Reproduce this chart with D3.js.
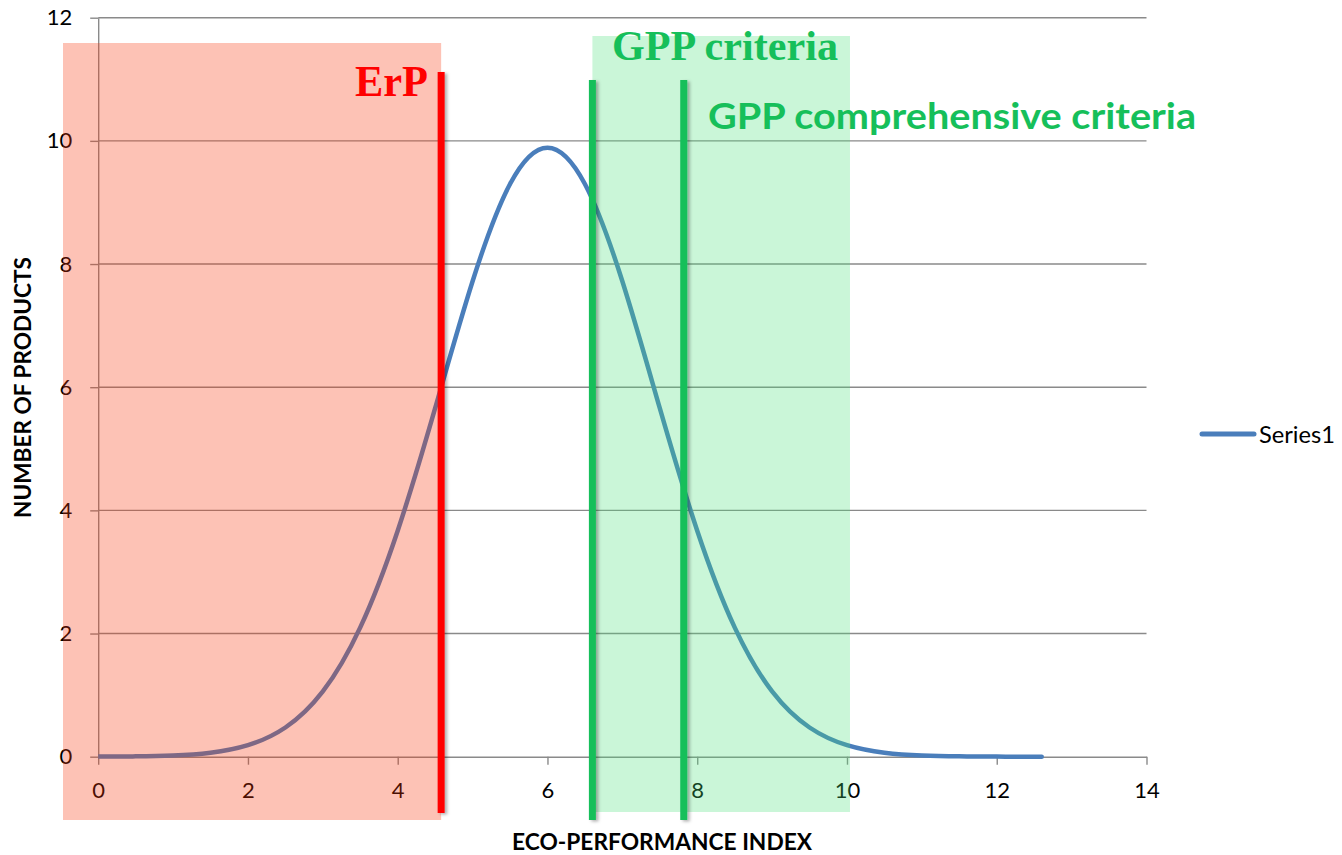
<!DOCTYPE html>
<html>
<head>
<meta charset="utf-8">
<script src="https://cdn.jsdelivr.net/npm/d3@7/dist/d3.min.js"></script>
<style>
  html, body { margin: 0; padding: 0; background: #ffffff; }
  svg { display: block; }
</style>
</head>
<body>
<svg id="chart" width="1342" height="855"></svg>
<script>
// Eco-performance index distribution (number of products per index value)
const indexValues = [0, 0.5, 1, 1.5, 2, 2.5, 3, 3.5, 4, 4.5, 5, 5.5, 6, 6.5, 7, 7.5, 8, 8.5, 9, 9.5, 10, 10.5, 11, 11.5, 12, 12.5, 12.6];
const productCounts = [0.0013, 0.0055, 0.020, 0.065, 0.187, 0.474, 1.06, 2.10, 3.67, 5.66, 7.72, 9.30, 9.89, 9.30, 7.72, 5.66, 3.67, 2.10, 1.06, 0.474, 0.187, 0.065, 0.020, 0.0055, 0.0013, 0.0003, 0.0002];

const xTicks = [0, 2, 4, 6, 8, 10, 12, 14];
const yTicks = [0, 2, 4, 6, 8, 10, 12];

// Threshold positions on the eco-performance index
const erpThreshold = 4.58;
const gppThreshold = 6.6;
const gppComprehensiveThreshold = 7.82;
const gppBandEnd = 10.04;

const seriesName = "Series1";

const svg = d3.select("#chart");
const x = d3.scaleLinear().domain([0, 14]).range([98.2, 1146.5]);
const y = d3.scaleLinear().domain([0, 12]).range([756.7, 17.7]);

const gridColor = "#8a8a8a";
const sans = "Lato, 'Open Sans', sans-serif";
const serif = "'Liberation Serif', 'Times New Roman', serif";
const green = "#16bf5a";
const lineWidth = 7;

// Soft shadow used by the threshold bars
const defs = svg.append("defs");
const f = defs.append("filter").attr("id", "shadow")
  .attr("filterUnits", "userSpaceOnUse")
  .attr("x", 0).attr("y", 0).attr("width", 1342).attr("height", 855);
f.append("feDropShadow").attr("dx", 2.5).attr("dy", 1.5).attr("stdDeviation", 1.5)
  .attr("flood-color", "#000").attr("flood-opacity", 0.3);

// Horizontal gridlines
svg.append("g").selectAll("line").data(yTicks.filter(d => d > 0)).join("line")
  .attr("x1", x(0)).attr("x2", x(14))
  .attr("y1", d => y(d)).attr("y2", d => y(d))
  .attr("stroke", gridColor).attr("stroke-width", 1.4);

// Y axis
const yAxis = svg.append("g").attr("transform", `translate(${x(0)},0)`)
  .call(d3.axisLeft(y).tickValues(yTicks).tickSize(8).tickSizeOuter(0).tickPadding(18));
yAxis.select(".domain").attr("stroke", gridColor).attr("stroke-width", 1.4);
yAxis.selectAll(".tick line").attr("stroke", gridColor).attr("stroke-width", 1.4);
yAxis.selectAll(".tick text").attr("font-family", sans).attr("font-size", 22).attr("fill", "#000");

// X axis
const xAxis = svg.append("g").attr("transform", `translate(0,${y(0)})`)
  .call(d3.axisBottom(x).tickValues(xTicks).tickSize(8).tickSizeOuter(0).tickPadding(18));
xAxis.select(".domain").attr("stroke", gridColor).attr("stroke-width", 1.4);
xAxis.selectAll(".tick line").attr("stroke", gridColor).attr("stroke-width", 1.4);
xAxis.selectAll(".tick text").attr("font-family", sans).attr("font-size", 22).attr("fill", "#000");

// Distribution curve
const points = indexValues.map((v, i) => [v, productCounts[i]]);
const line = d3.line().x(d => x(d[0])).y(d => y(d[1])).curve(d3.curveNatural);
svg.append("path").datum(points)
  .attr("d", line)
  .attr("fill", "none")
  .attr("stroke", "#4a7ebb")
  .attr("stroke-width", 4.5)
  .attr("stroke-linejoin", "round");

// Translucent bands: ErP region and GPP region
svg.append("rect")
  .attr("x", 63).attr("y", 43)
  .attr("width", x(erpThreshold) - 63).attr("height", 820 - 43)
  .attr("fill", "rgb(248,52,10)").attr("fill-opacity", 0.30);

svg.append("rect")
  .attr("x", x(gppThreshold)).attr("y", 36)
  .attr("width", x(gppBandEnd) - x(gppThreshold)).attr("height", 812 - 36)
  .attr("fill", "rgb(74,224,122)").attr("fill-opacity", 0.29);

// Threshold bars
svg.append("rect")
  .attr("x", x(erpThreshold) - lineWidth / 2).attr("y", 72)
  .attr("width", lineWidth).attr("height", 813 - 72)
  .attr("fill", "#ff0000")
  .attr("filter", "url(#shadow)");

svg.append("g").selectAll("rect")
  .data([gppThreshold, gppComprehensiveThreshold]).join("rect")
  .attr("x", d => x(d) - lineWidth / 2).attr("y", 80)
  .attr("width", lineWidth).attr("height", 820 - 80)
  .attr("fill", green)
  .attr("filter", "url(#shadow)");

// Threshold labels
svg.append("text")
  .attr("x", 428).attr("y", 95.5)
  .attr("text-anchor", "end")
  .attr("font-family", serif).attr("font-weight", "bold").attr("font-size", 45)
  .attr("textLength", 73).attr("lengthAdjust", "spacingAndGlyphs")
  .attr("fill", "#ff0000")
  .text("ErP");

svg.append("text")
  .attr("x", 612).attr("y", 60)
  .attr("font-family", serif).attr("font-weight", "bold").attr("font-size", 43)
  .attr("textLength", 226).attr("lengthAdjust", "spacingAndGlyphs")
  .attr("fill", green)
  .text("GPP criteria");

svg.append("text")
  .attr("x", 708).attr("y", 128.5)
  .attr("font-family", sans).attr("font-weight", "bold").attr("font-size", 37)
  .attr("textLength", 488).attr("lengthAdjust", "spacingAndGlyphs")
  .attr("fill", green)
  .text("GPP comprehensive criteria");

// Axis titles
svg.append("text")
  .attr("transform", "translate(31,387.5) rotate(-90)")
  .attr("text-anchor", "middle")
  .attr("font-family", sans).attr("font-weight", "bold").attr("font-size", 22)
  .attr("textLength", 261).attr("lengthAdjust", "spacingAndGlyphs")
  .attr("fill", "#000")
  .text("NUMBER OF PRODUCTS");

svg.append("text")
  .attr("x", 662).attr("y", 850)
  .attr("text-anchor", "middle")
  .attr("font-family", sans).attr("font-weight", "bold").attr("font-size", 22)
  .attr("textLength", 300).attr("lengthAdjust", "spacingAndGlyphs")
  .attr("fill", "#000")
  .text("ECO-PERFORMANCE INDEX");

// Legend
const legend = svg.append("g");
legend.append("line")
  .attr("x1", 1202).attr("x2", 1254).attr("y1", 434).attr("y2", 434)
  .attr("stroke", "#4a7ebb").attr("stroke-width", 5).attr("stroke-linecap", "round");
legend.append("text")
  .attr("x", 1259).attr("y", 442.5)
  .attr("font-family", sans).attr("font-size", 23)
  .attr("textLength", 76).attr("lengthAdjust", "spacingAndGlyphs")
  .attr("fill", "#000")
  .text(seriesName);
</script>
</body>
</html>
